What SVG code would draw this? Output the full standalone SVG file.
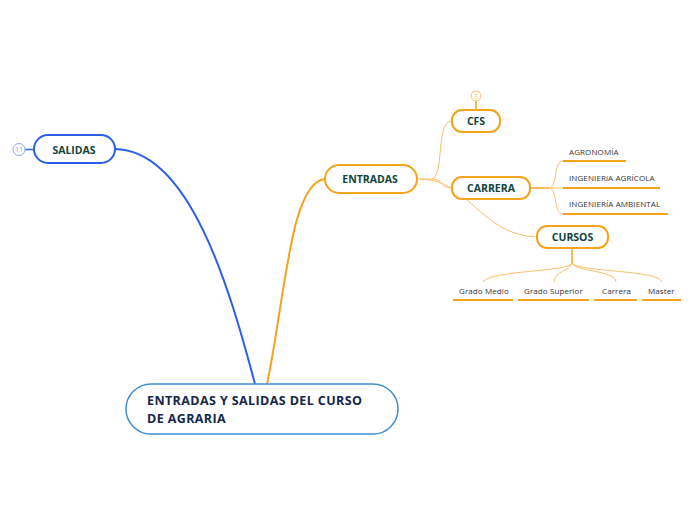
<svg xmlns="http://www.w3.org/2000/svg" width="696" height="520" viewBox="0 0 696 520">
<style>
.main{fill:#fff;stroke:#3b8fd4;stroke-width:1.5}
.blue{fill:#fff;stroke:#2a5fe6;stroke-width:2}
.org{fill:#fff;stroke:#f7a21b;stroke-width:2}
.t{font-family:"Open Sans","Liberation Sans",sans-serif;font-weight:bold;fill:#11443a;font-size:10.5px;text-anchor:middle}
.tm{font-family:"Open Sans","Liberation Sans",sans-serif;font-weight:bold;fill:#14264a;font-size:12.5px;letter-spacing:0.4px}
.leaf{font-family:"Open Sans","Liberation Sans",sans-serif;fill:#333;font-size:8px;letter-spacing:0.1px}
.ul{stroke:#f7a21b;stroke-width:2;fill:none}
.thin{stroke:#f9c06a;stroke-width:1;fill:none}
.badge{font-family:"Open Sans","Liberation Sans",sans-serif;font-size:7.5px;text-anchor:middle}
</style>
<g id="connectors">
<path d="M115,149 C190,150 230,290 255,384" stroke="#2a5fe6" stroke-width="2" fill="none"/>
<path d="M267,384 C285,300 290,182 325,179" stroke="#f7a21b" stroke-width="2" fill="none"/>
<path class="thin" d="M417,179 L432,179 C445,175 435,121 452,121"/>
<path class="thin" d="M432,179 C445,180 440,188 452,188"/>
<path class="thin" d="M420,179 C470,180 480,235 537,237"/>
<path d="M530,188 L549,188" stroke="#f7a21b" stroke-width="1.5" fill="none"/>
<path class="thin" d="M549,188 C558,188 553,161 563,161"/>
<path class="thin" d="M549,188 L563,188"/>
<path class="thin" d="M549,188 C558,188 553,214 563,214"/>
<path d="M572,249 L572,263" stroke="#f7a21b" stroke-width="1.5" fill="none"/>
<path class="thin" d="M572,263 C570,272 490,270 483,282"/>
<path class="thin" d="M572,263 C570,272 555,270 554,282"/>
<path class="thin" d="M572,263 C575,272 615,270 616,282"/>
<path class="thin" d="M572,263 C578,272 660,270 662,282"/>
</g>
<g id="central">
<rect class="main" x="126" y="384" width="272" height="50" rx="25"/>
<text class="tm" x="147" y="405">ENTRADAS Y SALIDAS DEL CURSO</text>
<text class="tm" x="147" y="423">DE AGRARIA</text>
</g>
<g id="salidas">
<line x1="25" y1="149.5" x2="34" y2="149.5" stroke="#2a5fe6" stroke-width="1.5"/>
<circle cx="19" cy="149.5" r="6" fill="#fff" stroke="#8fa8f0" stroke-width="1"/>
<text class="badge" x="19" y="152.3" fill="#8fa8f0">11</text>
<rect class="blue" x="34" y="135" width="81" height="28" rx="14"/>
<text class="t" x="74" y="153.5">SALIDAS</text>
</g>
<g id="entradas">
<rect class="org" x="325" y="165" width="92" height="28" rx="14"/>
<text class="t" x="370" y="183">ENTRADAS</text>
</g>
<g id="cfs">
<line x1="476" y1="101" x2="476" y2="110" stroke="#f7a21b" stroke-width="1.5"/>
<circle cx="476" cy="96" r="5" fill="#fff" stroke="#f9c06a" stroke-width="1"/>
<text class="badge" x="476" y="98.8" fill="#f9c06a">3</text>
<rect class="org" x="452" y="110" width="48" height="22" rx="10"/>
<text class="t" x="476" y="125">CFS</text>
</g>
<g id="carrera">
<rect class="org" x="452" y="177" width="78" height="22" rx="10"/>
<text class="t" x="491" y="192">CARRERA</text>
</g>
<g id="cursos">
<rect class="org" x="537" y="226" width="71" height="22" rx="10"/>
<text class="t" x="572.5" y="241">CURSOS</text>
</g>
<g id="agronomia">
<text class="leaf" x="569" y="155">AGRONOMÍA</text>
<line class="ul" x1="563" y1="161" x2="626" y2="161"/>
</g>
<g id="ing-agricola">
<text class="leaf" x="569" y="181">INGENIERíA AGRÍCOLA</text>
<line class="ul" x1="563" y1="188" x2="660" y2="188"/>
</g>
<g id="ing-ambiental">
<text class="leaf" x="569" y="207">INGENIERÍA AMBIENTAL</text>
<line class="ul" x1="563" y1="214" x2="668" y2="214"/>
</g>
<g id="grado-medio">
<text class="leaf" x="459" y="294">Grado Medio</text>
<line class="ul" x1="453" y1="300" x2="513" y2="300"/>
</g>
<g id="grado-superior">
<text class="leaf" x="524" y="294">Grado Superior</text>
<line class="ul" x1="518" y1="300" x2="589" y2="300"/>
</g>
<g id="carrera-leaf">
<text class="leaf" x="602" y="294">Carrera</text>
<line class="ul" x1="594" y1="300" x2="637" y2="300"/>
</g>
<g id="master">
<text class="leaf" x="648" y="294">Master</text>
<line class="ul" x1="642" y1="300" x2="681" y2="300"/>
</g>
</svg>
